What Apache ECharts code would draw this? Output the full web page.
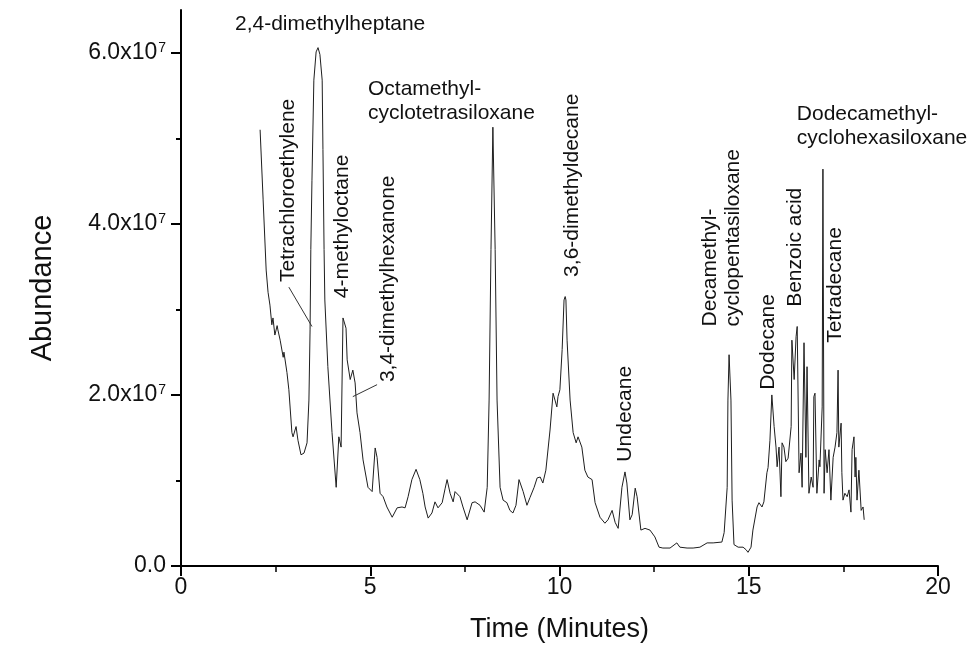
<!DOCTYPE html>
<html>
<head>
<meta charset="utf-8">
<script src="https://cdn.jsdelivr.net/npm/echarts@6/dist/echarts.min.js"></script>
<style>
  html, body { margin: 0; padding: 0; background: #ffffff; }
  #chart { width: 976px; height: 656px; }
</style>
</head>
<body>
<div id="chart"></div>
<script>
// Retention time (minutes) of each sampled point of the total ion chromatogram
const timeMin = [
  2.09, 2.17, 2.25, 2.30, 2.35, 2.40, 2.43, 2.48, 2.54, 2.56, 2.62, 2.70, 2.72, 2.80, 2.85,
  2.93, 2.96, 3.04, 3.09, 3.17, 3.25, 3.33, 3.38, 3.41, 3.43, 3.46, 3.51, 3.57, 3.62, 3.67,
  3.73, 3.75, 3.78, 3.80, 3.88, 3.99, 4.10, 4.17, 4.23, 4.28, 4.36, 4.39, 4.47, 4.54, 4.60,
  4.65, 4.73, 4.81, 4.94, 5.05, 5.13, 5.18, 5.26, 5.34, 5.44, 5.58, 5.71, 5.84, 5.92, 6.00,
  6.10, 6.21, 6.31, 6.39, 6.45, 6.53, 6.63, 6.71, 6.79, 6.90, 6.98, 7.03, 7.11, 7.19, 7.24,
  7.37, 7.45, 7.56, 7.69, 7.77, 7.90, 8.01, 8.09, 8.14, 8.19, 8.24, 8.30, 8.35, 8.43, 8.51,
  8.61, 8.69, 8.77, 8.85, 8.93, 9.04, 9.14, 9.22, 9.33, 9.41, 9.49, 9.56, 9.64, 9.75, 9.83,
  9.88, 9.93, 9.96, 10.01, 10.07, 10.12, 10.15, 10.17, 10.20, 10.28, 10.36, 10.44, 10.49, 10.59, 10.67,
  10.75, 10.86, 10.94, 11.07, 11.20, 11.28, 11.39, 11.47, 11.55, 11.65, 11.73, 11.78, 11.86, 11.92, 12.00,
  12.05, 12.15, 12.26, 12.39, 12.52, 12.63, 12.73, 12.92, 13.10, 13.18, 13.37, 13.53, 13.71, 13.90, 14.06,
  14.29, 14.35, 14.43, 14.45, 14.48, 14.53, 14.56, 14.61, 14.72, 14.85, 14.93, 14.98, 15.06, 15.11, 15.22,
  15.27, 15.35, 15.40, 15.48, 15.51, 15.56, 15.61, 15.67, 15.72, 15.75, 15.80, 15.85, 15.88, 15.93, 15.98,
  16.04, 16.12, 16.14, 16.20, 16.25, 16.28, 16.33, 16.38, 16.41, 16.46, 16.51, 16.54, 16.59, 16.65, 16.70,
  16.72, 16.75, 16.80, 16.86, 16.88, 16.94, 16.96, 16.99, 17.02, 17.07, 17.12, 17.17, 17.23, 17.28, 17.33,
  17.36, 17.38, 17.44, 17.46, 17.49, 17.54, 17.60, 17.65, 17.70, 17.73, 17.78, 17.81, 17.83, 17.86, 17.91,
  17.97, 18.02, 18.05
];

// Abundance at each retention time, in units of 10^7 counts
const abundance = [
  5.10, 4.28, 3.46, 3.20, 3.05, 2.82, 2.90, 2.70, 2.81, 2.76, 2.64, 2.44, 2.50, 2.26, 2.06,
  1.56, 1.51, 1.63, 1.47, 1.30, 1.32, 1.44, 1.94, 2.76, 3.70, 4.51, 5.68, 6.01, 6.06, 5.98,
  5.68, 4.87, 3.70, 3.11, 2.33, 1.56, 0.92, 1.51, 1.39, 2.90, 2.78, 2.41, 2.18, 2.29, 2.14,
  1.79, 1.56, 1.24, 0.92, 0.87, 1.38, 1.27, 0.85, 0.81, 0.69, 0.57, 0.68, 0.69, 0.68, 0.81,
  1.01, 1.13, 1.01, 0.85, 0.69, 0.56, 0.62, 0.75, 0.68, 0.74, 0.91, 1.01, 0.85, 0.75, 0.87,
  0.81, 0.69, 0.54, 0.74, 0.75, 0.71, 0.63, 0.92, 1.94, 3.70, 5.13, 3.70, 1.94, 0.92, 0.77,
  0.74, 0.65, 0.62, 0.71, 1.01, 0.87, 0.71, 0.80, 0.92, 1.03, 1.04, 0.97, 1.12, 1.59, 2.02,
  1.94, 1.86, 1.98, 2.06, 2.53, 3.11, 3.15, 3.11, 2.64, 1.94, 1.56, 1.44, 1.51, 1.39, 1.12,
  1.04, 1.01, 0.74, 0.57, 0.50, 0.54, 0.65, 0.51, 0.44, 0.92, 1.10, 0.97, 0.54, 0.60, 0.91,
  0.81, 0.42, 0.44, 0.42, 0.34, 0.22, 0.21, 0.21, 0.27, 0.22, 0.21, 0.21, 0.22, 0.27, 0.27,
  0.28, 0.39, 0.92, 1.94, 2.47, 1.94, 0.77, 0.25, 0.22, 0.22, 0.19, 0.16, 0.22, 0.42, 0.69,
  0.74, 0.69, 0.75, 1.09, 1.15, 1.47, 2.00, 1.63, 1.39, 1.16, 1.39, 0.81, 1.44, 1.39, 1.22,
  1.26, 1.63, 2.64, 2.18, 2.68, 2.80, 1.09, 1.32, 0.92, 2.61, 1.27, 2.33, 0.85, 1.04, 0.92,
  1.98, 2.02, 0.85, 1.24, 1.16, 1.86, 4.64, 0.85, 1.36, 1.09, 1.36, 0.77, 1.27, 1.39, 1.56,
  2.29, 1.39, 1.67, 1.09, 0.77, 0.85, 0.81, 0.89, 0.63, 1.36, 1.51, 1.04, 1.27, 0.77, 1.12,
  0.65, 0.69, 0.54
];

const abundanceExponent = 7;
const abundanceUnit = Math.pow(10, abundanceExponent);

// Axis ticks
const xTickValues = [0, 5, 10, 15, 20];
const yMajorTicks = [0, 2, 4, 6];   // x 10^7
const yMinorTicks = [1, 3, 5];      // x 10^7

// Compound names attached to the chromatogram peaks
const peakNames = [
  '2,4-dimethylheptane',
  'Tetrachloroethylene',
  '4-methyloctane',
  '3,4-dimethylhexanone',
  'Octamethyl-\ncyclotetrasiloxane',
  '3,6-dimethyldecane',
  'Undecane',
  'Decamethyl-\ncyclopentasiloxane',
  'Dodecane',
  'Benzoic acid',
  'Dodecamethyl-\ncyclohexasiloxane',
  'Tetradecane'
];

// Where each name sits, in chart units (time, abundance x10^7)
const labelLayout = [
  { at: [3.94, 6.33], vertical: false, align: 'center', vAlign: 'middle' },
  { at: [2.83, 3.32], vertical: true },
  { at: [4.25, 3.13], vertical: true },
  { at: [5.47, 2.15], vertical: true },
  { at: [4.94, 5.72], vertical: false, align: 'left', vAlign: 'top' },
  { at: [10.33, 3.38], vertical: true },
  { at: [11.73, 1.22], vertical: true },
  { at: [14.28, 2.80], vertical: true },
  { at: [15.51, 2.06], vertical: true },
  { at: [16.22, 3.03], vertical: true },
  { at: [16.27, 5.42], vertical: false, align: 'left', vAlign: 'top' },
  { at: [17.28, 2.61], vertical: true }
];

// Leader lines from a name to its peak, chart units
const leaders = [
  [[2.85, 3.26], [3.46, 2.80]],
  [[5.18, 2.12], [4.54, 1.98]]
];

const FONT = '"Liberation Sans", Arial, sans-serif';

const seriesData = timeMin.map((t, i) => [t, abundance[i] * abundanceUnit]);

const chart = echarts.init(document.getElementById('chart'), null, { renderer: 'canvas' });

function yLabel(v) {
  const m = v / abundanceUnit;
  if (Math.abs(m) < 1e-9) return '{m|0.0}';
  return '{m|' + m.toFixed(1) + 'x10}{s|' + abundanceExponent + '}';
}

const yBase = {
  type: 'value',
  min: 0,
  max: 6.5 * abundanceUnit,
  position: 'left',
  splitLine: { show: false }
};

chart.setOption({
  animation: false,
  backgroundColor: '#ffffff',
  grid: { left: 181, right: 38, top: 10, bottom: 90, containLabel: false },
  xAxis: {
    type: 'value',
    min: 0,
    max: 20,
    interval: 5,
    axisLine: { show: true, onZero: false, lineStyle: { color: '#000', width: 2 } },
    axisTick: { show: true, inside: false, length: 10, lineStyle: { color: '#000', width: 2 } },
    minorTick: { show: true, splitNumber: 2, length: 6, lineStyle: { color: '#000', width: 1.5 } },
    axisLabel: {
      customValues: xTickValues,
      margin: 10,
      color: '#111',
      fontSize: 23,
      fontFamily: FONT
    },
    splitLine: { show: false },
    minorSplitLine: { show: false },
    name: 'Time (Minutes)',
    nameLocation: 'middle',
    nameGap: 50,
    nameTextStyle: { color: '#111', fontSize: 27, fontFamily: FONT }
  },
  yAxis: [
    Object.assign({}, yBase, {
      axisLine: { show: true, lineStyle: { color: '#000', width: 2 } },
      axisTick: {
        show: true, inside: false, length: 10,
        customValues: yMajorTicks.map(v => v * abundanceUnit),
        lineStyle: { color: '#000', width: 2 }
      },
      axisLabel: {
        customValues: yMajorTicks.map(v => v * abundanceUnit),
        margin: 15,
        formatter: yLabel,
        rich: {
          m: { fontSize: 23, fontFamily: FONT, color: '#111', lineHeight: 26 },
          s: { fontSize: 14, fontFamily: FONT, color: '#111', lineHeight: 14, verticalAlign: 'top', padding: [1, 0, 0, 1] }
        }
      },
      name: 'Abundance',
      nameLocation: 'middle',
      nameGap: 124,
      nameTextStyle: { color: '#111', fontSize: 29, fontFamily: FONT }
    }),
    Object.assign({}, yBase, {
      axisLine: { show: false },
      axisTick: {
        show: true, inside: false, length: 5,
        customValues: yMinorTicks.map(v => v * abundanceUnit),
        lineStyle: { color: '#000', width: 2 }
      },
      axisLabel: { show: false }
    })
  ],
  series: [{
    type: 'line',
    data: seriesData,
    showSymbol: false,
    symbol: 'none',
    smooth: false,
    lineStyle: { color: '#1e1e1e', width: 1 },
    z: 3
  }]
});

// Names and leader lines are placed from chart units once the grid is laid out
function toPx(p) {
  return chart.convertToPixel({ xAxisIndex: 0, yAxisIndex: 0 }, [p[0], p[1] * abundanceUnit]);
}

const graphics = [];
peakNames.forEach((name, i) => {
  const lay = labelLayout[i];
  const p = toPx(lay.at);
  const style = {
    text: name,
    font: '21px ' + FONT,
    fill: '#111',
    lineHeight: 23
  };
  if (lay.vertical) {
    graphics.push({
      type: 'text', x: p[0], y: p[1], rotation: Math.PI / 2,
      style: Object.assign(style, { align: 'left', verticalAlign: 'middle' }),
      z: 10
    });
  } else {
    graphics.push({
      type: 'text', x: p[0], y: p[1],
      style: Object.assign(style, { align: lay.align, verticalAlign: lay.vAlign, lineHeight: 24 }),
      z: 10
    });
  }
});
leaders.forEach(seg => {
  const a = toPx(seg[0]);
  const b = toPx(seg[1]);
  graphics.push({
    type: 'line',
    shape: { x1: a[0], y1: a[1], x2: b[0], y2: b[1] },
    style: { stroke: '#333', lineWidth: 1 },
    z: 10
  });
});
chart.setOption({ graphic: graphics });
</script>
</body>
</html>
